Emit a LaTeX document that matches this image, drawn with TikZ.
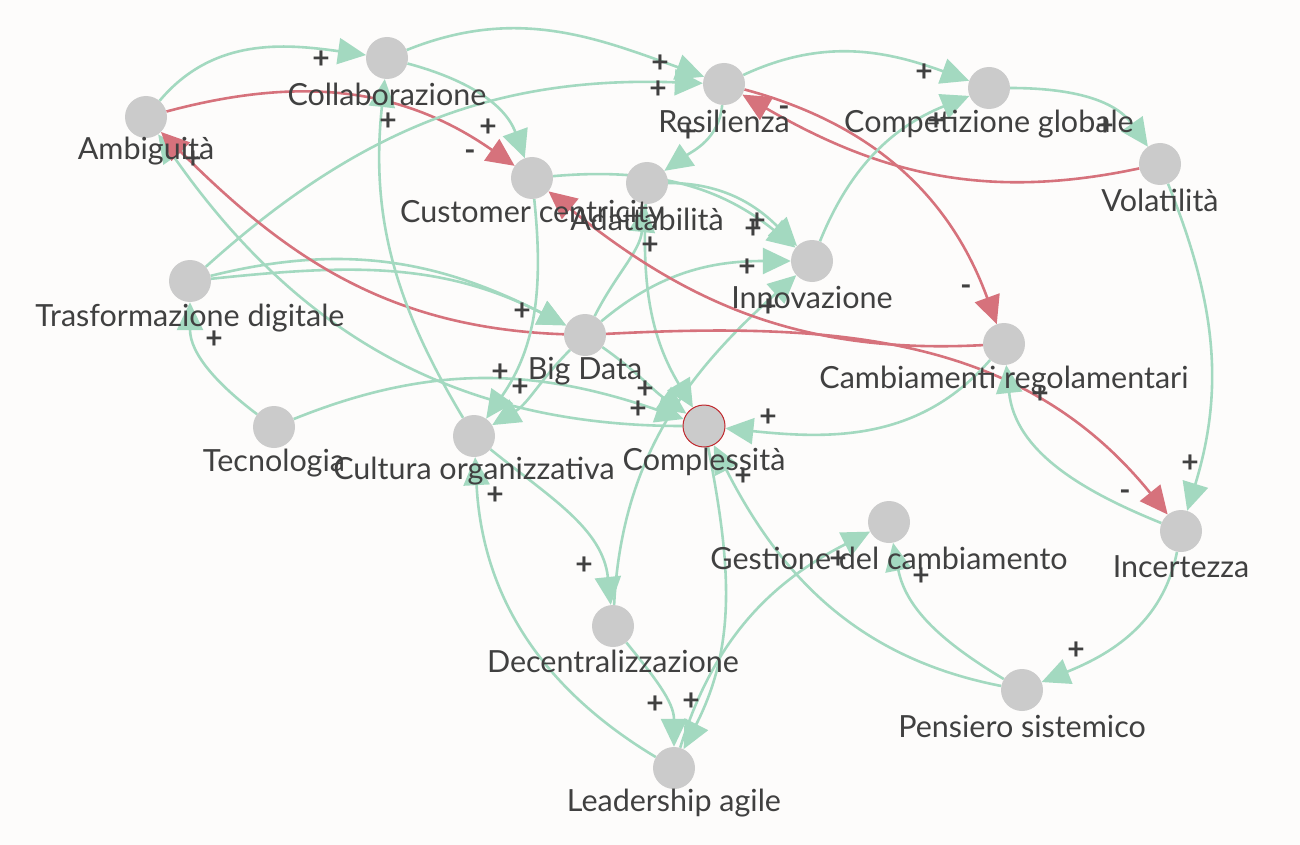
\documentclass[tikz,border=0pt]{standalone}
\usepackage{fontspec}
\setmainfont{Lato}
\usetikzlibrary{arrows.meta}
\definecolor{bgc}{HTML}{FDFCFB}
\definecolor{gl}{HTML}{A3D9C0}
\definecolor{rl}{HTML}{D6727C}
\definecolor{nodefill}{HTML}{CBCBCB}
\definecolor{txt}{HTML}{404040}
\definecolor{cpxred}{HTML}{C0282D}
\pgfdeclarelayer{bgl}
\pgfdeclarelayer{edgel}
\pgfsetlayers{bgl,edgel,main}
\begin{document}
\begin{tikzpicture}[x=1pt,y=1pt,
 var/.style={circle,fill=nodefill,minimum size=42pt,inner sep=0pt},
 lbl/.style={font=\fontsize{30.5}{30.5}\selectfont,text=txt,inner sep=0pt},
 sgn/.style={font=\fontsize{30}{30}\selectfont\bfseries,text=txt,inner sep=0pt},
 posl/.style={draw=gl,line width=2.6pt,-{Triangle[length=28pt,width=26pt,fill=gl]}},
 negl/.style={draw=rl,line width=2.6pt,-{Triangle[length=28pt,width=26pt,fill=rl]}},
]
\begin{pgfonlayer}{bgl}
\fill[bgc] (0,0) rectangle (1300,-845);
\end{pgfonlayer}
\useasboundingbox (0,0) rectangle (1300,-845);

% variables
\node[var] (amb) at (146,-117) {};
\node[var] (col) at (387,-58) {};
\node[var] (res) at (724,-84) {};
\node[var] (comp) at (989,-88) {};
\node[var] (vol) at (1160,-164) {};
\node[var] (cc) at (532,-178) {};
\node[var] (ada) at (647,-183) {};
\node[var] (inn) at (812,-261) {};
\node[var] (td) at (190,-281) {};
\node[var] (bd) at (585,-335) {};
\node[var] (cr) at (1004,-344) {};
\node[var] (tec) at (274,-427) {};
\node[var] (cul) at (474,-436) {};
\node[var,draw=cpxred,line width=1pt] (cpx) at (704,-426) {};
\node[var] (gdc) at (889,-522) {};
\node[var] (inc) at (1181,-531) {};
\node[var] (dec) at (613,-626) {};
\node[var] (ps) at (1022,-690) {};
\node[var] (la) at (674,-768) {};

% edges
\begin{pgfonlayer}{edgel}
\draw[posl] (amb) to[out=50,in=172] (col);
\draw[negl] (amb) to[out=15,in=145] (cc);
\draw[posl] (col) to[out=22,in=160] (res);
\draw[posl] (col) to[out=-15,in=110] (cc);
\draw[posl] (td) to[out=42,in=178] (res);
\draw[posl] (res) to[out=25,in=160] (comp);
\draw[posl] (res) to[out=-95,in=35] (ada);
\draw[negl] (res) to[out=-15,in=110] (cr);
\draw[negl] (vol) to[out=192,in=-30] (res);
\draw[posl] (comp) to[out=0,in=125] (vol);
\draw[posl] (inn) to[out=68,in=202] (comp);
\draw[posl] (vol) to[out=-68,in=73] (inc);
\draw[posl] (cc) to[out=5,in=141] (inn);
\draw[posl] (ada) to[out=0,in=135] (inn);
\draw[posl] (bd) to[out=40,in=180] (inn);
\draw[posl] (dec) to[out=87,in=222] (inn);
\draw[posl] (td) to[out=14,in=153] (bd);
\draw[posl] (td) to[out=6,in=153] (bd);
\draw[posl] (bd) to[out=63,in=264] (ada);
\draw[posl] (ada) to[out=-93,in=121] (cpx);
\draw[posl] (bd) to[out=-35,in=145] (cpx);
\draw[posl] (tec) to[out=22,in=161] (cpx);
\draw[posl] (cpx) to[out=180,in=-55] (amb);
\draw[negl] (bd) to[out=178,in=-45] (amb);
\draw[negl] (cr) to[out=183,in=-39] (cc);
\draw[negl] (bd) to[out=3,in=129] (inc);
\draw[posl] (inc) to[out=158,in=-84] (cr);
\draw[posl] (cr) to[out=-131,in=-6] (cpx);
\draw[posl] (tec) to[out=143,in=-90] (td);
\draw[posl] (cul) to[out=121,in=-96] (col);
\draw[posl] (cc) to[out=-84,in=55] (cul);
\draw[posl] (bd) to[out=225,in=31] (cul);
\draw[posl] (cul) to[out=-39,in=96] (dec);
\draw[posl] (la) to[out=149,in=-87] (cul);
\draw[posl] (dec) to[out=-51,in=90] (la);
\draw[posl] (cpx) to[out=-79,in=63] (la);
\draw[posl] (la) to[out=73,in=207] (gdc);
\draw[posl] (ps) to[out=149,in=-79] (gdc);
\draw[posl] (ps) to[out=169,in=-63] (cpx);
\draw[posl] (inc) to[out=-101,in=22] (ps);
\end{pgfonlayer}

% variable labels
\node[lbl] (ambL) at (146,-151) {Ambiguità};
\node[lbl] (colL) at (387,-94) {Collaborazione};
\node[lbl] (resL) at (724,-121) {Resilienza};
\node[lbl] (compL) at (989,-124) {Competizione globale};
\node[lbl] (volL) at (1160,-200) {Volatilità};
\node[lbl] (ccL) at (532,-214) {Customer centricity};
\node[lbl] (adaL) at (647,-219) {Adattabilità};
\node[lbl] (innL) at (812,-297) {Innovazione};
\node[lbl] (tdL) at (190,-318) {Trasformazione digitale};
\node[lbl] (bdL) at (585,-371) {Big Data};
\node[lbl] (crL) at (1004,-380) {Cambiamenti regolamentari};
\node[lbl] (tecL) at (274,-463) {Tecnologia};
\node[lbl] (culL) at (474,-471) {Cultura organizzativa};
\node[lbl] (cpxL) at (704,-462) {Complessità};
\node[lbl] (gdcL) at (889,-558) {Gestione del cambiamento};
\node[lbl] (incL) at (1181,-567) {Incertezza};
\node[lbl] (decL) at (613,-661) {Decentralizzazione};
\node[lbl] (psL) at (1022,-726) {Pensiero sistemico};
\node[lbl] (laL) at (674,-803) {Leadership agile};

% polarity signs
\node[sgn] (s1) at (321,-60) {+};
\node[sgn] (s2) at (470,-155) {-};
\node[sgn] (s3) at (488,-128) {+};
\node[sgn] (s4) at (660,-64) {+};
\node[sgn] (s5) at (658,-90) {+};
\node[sgn] (s6) at (924,-73) {+};
\node[sgn] (s7) at (688,-133) {+};
\node[sgn] (s8) at (966,-290) {-};
\node[sgn] (s9) at (784,-111) {-};
\node[sgn] (s10) at (1105,-127) {+};
\node[sgn] (s11) at (936,-122) {+};
\node[sgn] (s12) at (1190,-464) {+};
\node[sgn] (s13) at (757,-222) {+};
\node[sgn] (s14) at (753,-230) {+};
\node[sgn] (s15) at (747,-268) {+};
\node[sgn] (s16) at (768,-308) {+};
\node[sgn] (s17) at (522,-312) {+};
\node[sgn] (s18) at (650,-246) {+};
\node[sgn] (s19) at (645,-390) {+};
\node[sgn] (s20) at (638,-410) {+};
\node[sgn] (s21) at (193,-160) {+};
\node[sgn] (s22) at (1125,-495) {-};
\node[sgn] (s23) at (1040,-395) {+};
\node[sgn] (s24) at (768,-418) {+};
\node[sgn] (s25) at (214,-340) {+};
\node[sgn] (s26) at (388,-122) {+};
\node[sgn] (s27) at (500,-373) {+};
\node[sgn] (s28) at (520,-388) {+};
\node[sgn] (s29) at (584,-566) {+};
\node[sgn] (s30) at (495,-496) {+};
\node[sgn] (s31) at (655,-705) {+};
\node[sgn] (s32) at (691,-702) {+};
\node[sgn] (s33) at (838,-560) {+};
\node[sgn] (s34) at (921,-577) {+};
\node[sgn] (s35) at (743,-477) {+};
\node[sgn] (s36) at (1076,-651) {+};
\end{tikzpicture}
\end{document}
